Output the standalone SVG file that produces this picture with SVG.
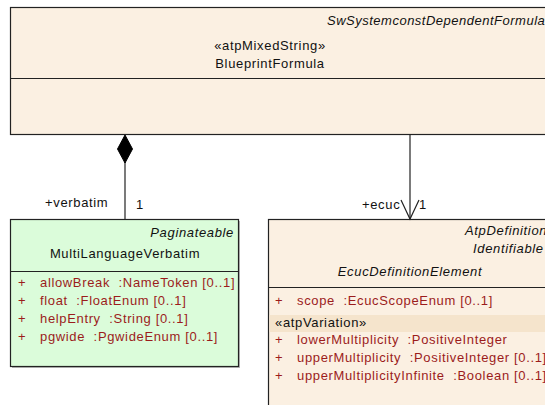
<svg xmlns="http://www.w3.org/2000/svg" width="545" height="405" viewBox="0 0 545 405">
<style>
text{font-family:"Liberation Sans",Arial,sans-serif;font-size:13px;letter-spacing:0.65px;fill:#111;white-space:pre}
.it{font-style:italic}
.c{text-anchor:middle}
.e{text-anchor:end}
.a{fill:#9b1c1c}
.box{stroke:#222;stroke-width:1.2}
.beige{fill:#fbf0e2}
.green{fill:#dbfcda}
.sh{fill:#b8b8b8}
.ln{stroke:#222;stroke-width:1.2;fill:none}
</style>
<g id="SwSystemconstDependentFormula">
<rect class="box beige" x="10.5" y="7.5" width="545" height="127"/>
<line class="ln" x1="10.5" y1="78.5" x2="546" y2="78.5"/>
<text class="it" x="327" y="25" style="letter-spacing:0.5px">SwSystemconstDependentFormula</text>
<text class="c" x="270" y="50">«atpMixedString»</text>
<text class="c" x="270" y="68">BlueprintFormula</text>
</g>
<g id="MultiLanguageVerbatim">
<rect class="sh" x="12" y="221" width="228" height="147"/>
<rect class="box green" x="10.5" y="219.5" width="228" height="147"/>
<line class="ln" x1="10.5" y1="271.5" x2="238.5" y2="271.5"/>
<text class="it e" x="234" y="237">Paginateable</text>
<text class="c" x="125" y="258">MultiLanguageVerbatim</text>
<text class="a" x="18" y="287">+</text><text class="a" x="40" y="287">allowBreak  :NameToken [0..1]</text>
<text class="a" x="18" y="305">+</text><text class="a" x="40" y="305">float  :FloatEnum [0..1]</text>
<text class="a" x="18" y="323">+</text><text class="a" x="40" y="323">helpEntry  :String [0..1]</text>
<text class="a" x="18" y="341">+</text><text class="a" x="40" y="341">pgwide  :PgwideEnum [0..1]</text>
</g>
<g id="EcucDefinitionElement">
<rect class="box beige" x="268.5" y="219.5" width="290" height="200"/>
<line class="ln" x1="268.5" y1="287.5" x2="546" y2="287.5"/>
<rect x="269.5" y="315" width="277" height="17" fill="#f5e4cc"/>
<text class="it" x="465" y="235">AtpDefinition</text>
<text class="it" x="473" y="253">Identifiable</text>
<text class="it c" x="410" y="276">EcucDefinitionElement</text>
<text class="a" x="275" y="305">+</text><text class="a" x="297" y="305">scope  :EcucScopeEnum [0..1]</text>
<text x="275" y="327">«atpVariation»</text>
<text class="a" x="275" y="344">+</text><text class="a" x="297" y="344">lowerMultiplicity  :PositiveInteger</text>
<text class="a" x="275" y="362">+</text><text class="a" x="297" y="362">upperMultiplicity  :PositiveInteger [0..1]</text>
<text class="a" x="275" y="380">+</text><text class="a" x="297" y="380">upperMultiplicityInfinite  :Boolean [0..1]</text>
</g>
<g id="connectors">
<line class="ln" x1="125" y1="162" x2="125" y2="219"/>
<polygon points="125,135 132.5,149 125,163 117.5,149" fill="#000" stroke="#000"/>
<text x="45" y="207">+verbatim</text>
<text x="136" y="209">1</text>
<line class="ln" x1="410" y1="134" x2="410" y2="219"/>
<polyline class="ln" points="401,200 410,219 419,200"/>
<text x="362" y="209">+ecuc</text>
<text x="419" y="209">1</text>
</g>
</svg>
